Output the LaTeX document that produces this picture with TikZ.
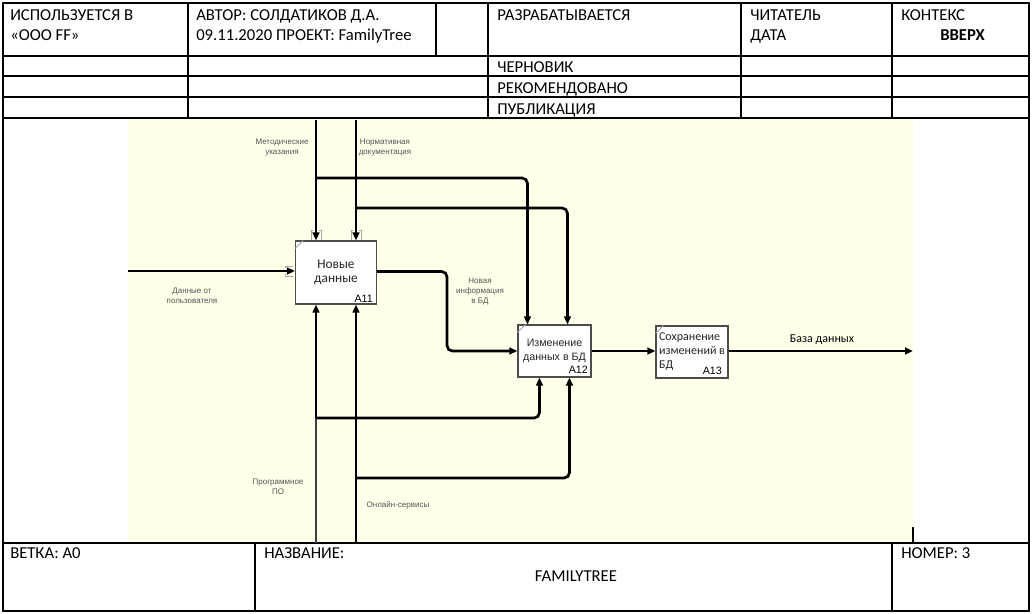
\documentclass[tikz,border=0pt]{standalone}
\usepackage{fontspec}
\setmainfont{Carlito}
\newfontfamily\arialf{Liberation Sans}
\usetikzlibrary{arrows.meta,calc}
\definecolor{bgy}{RGB}{255,255,234}
\definecolor{lbl}{RGB}{85,85,85}
\begin{document}
\begin{tikzpicture}[x=0.75pt,y=-0.75pt,
  hdr/.style={anchor=base west, font=\fontsize{12.5}{14}\selectfont, inner sep=0pt},
  lab/.style={font=\arialf\fontsize{6}{7.5}\selectfont, text=lbl, align=center, inner sep=0pt},
  boxn/.style={draw=gray!60!black, fill=white, line width=0.8pt, inner sep=0pt,
               font=\arialf\fontsize{8}{10.5}\selectfont, text=black!85},
  num/.style={font=\arialf\fontsize{8}{9}\selectfont, anchor=base east, inner sep=0pt},
  arr/.style={line width=2pt, -{Triangle[length=6pt,width=5pt]}, rounded corners=4pt},
  thinln/.style={line width=1pt, draw=black!75},
  frm/.style={line width=1.1pt},
  tun/.style={draw=gray!70, line width=0.6pt}
]
\useasboundingbox (0,0) rectangle (1032,614);
\fill[white] (0,0) rectangle (1032,614);
% diagram background
\fill[bgy] (128,119) rectangle (913,543);

% frame
\draw[frm] (3,3) rectangle (1029,611);
\draw[frm] (3,56) -- (1029,56);
\draw[frm] (3,76) -- (1029,76);
\draw[frm] (3,97) -- (1029,97);
\draw[frm] (3,118) -- (1029,118);
\draw[frm] (188,3) -- (188,118);
\draw[frm] (436,3) -- (436,56);
\draw[frm] (488,3) -- (488,118);
\draw[frm] (741,3) -- (741,118);
\draw[frm] (892,3) -- (892,118);
\draw[frm] (3,543) -- (1029,543);
\draw[frm] (255,543) -- (255,611);
\draw[frm] (892,543) -- (892,611);
\draw[line width=0.8pt] (913,527) -- (913,543);

% header texts
\node[hdr] (h1a) at (10,20) {ИСПОЛЬЗУЕТСЯ В};
\node[hdr] (h1b) at (10,40) {«ООО FF»};
\node[hdr] (h2a) at (196,20) {АВТОР: СОЛДАТИКОВ Д.А.};
\node[hdr] (h2b) at (196,40) {09.11.2020 ПРОЕКТ: FamilyTree};
\node[hdr] (h3) at (497,20) {РАЗРАБАТЫВАЕТСЯ};
\node[hdr] (h4a) at (750,20) {ЧИТАТЕЛЬ};
\node[hdr] (h4b) at (750,40) {ДАТА};
\node[hdr] (h5a) at (901,20) {КОНТЕКС};
\node[hdr, font=\fontsize{12.5}{14}\selectfont\bfseries] (h5b) at (940,40) {ВВЕРХ};
\node[hdr] (r1) at (497,72.5) {ЧЕРНОВИК};
\node[hdr] (r2) at (497,93) {РЕКОМЕНДОВАНО};
\node[hdr] (r3) at (497,114) {ПУБЛИКАЦИЯ};
\node[hdr] (f1) at (10,558) {ВЕТКА: А0};
\node[hdr] (f2) at (264,558) {НАЗВАНИЕ:};
\node[font=\fontsize{12.5}{14}\selectfont, inner sep=0pt] (f3) at (576,576) {FAMILYTREE};
\node[hdr] (f4) at (901,558) {НОМЕР: 3};

% boxes
\node[boxn, minimum width=60.75pt, minimum height=47.25pt, align=center, font=\fontsize{10}{10.5}\selectfont] (a11) at (336,272.5) {Новые\\данные};
\node[boxn, minimum width=54.75pt, minimum height=39pt, align=center] (a12) at (554.5,351) {Изменение\\данных в БД};
\node[boxn, minimum width=54pt, minimum height=39pt, align=left, font=\fontsize{9}{10.5}\selectfont] (a13) at (692,352) {Сохранение\\изменений в\\БД};
\foreach \b in {a11,a12,a13}{
  \draw[gray!70, line width=0.6pt] ($(\b.north west)+(0,8)$) -- ($(\b.north west)+(8,0)$);
}
\node[num] (n11) at (373,302) {A11};
\node[num] (n12) at (588,373) {A12};
\node[num] (n13) at (722,374) {A13};

% coordinates of free ends
\coordinate (in1) at (128,271);
\coordinate (c1) at (316,120);
\coordinate (c2) at (356,120);
\coordinate (m1) at (316,543);
\coordinate (m2) at (356,543);
\coordinate (out) at (913,351);
\coordinate (c1b) at (316,178);
\coordinate (c2b) at (356,208);
\coordinate (m1b) at (316,418);
\coordinate (m2b) at (356,478);

% arrows
\draw[arr] (in1) -- (in1 -| a11.west);
\draw[arr] (c1) -- (c1 |- a11.north);
\draw[arr] (c2) -- (c2 |- a11.north);
\draw[arr] (c1b) -| ($(a12.north west)+(10,0)$);
\draw[arr] (c2b) -| ($(a12.north west)+(50,0)$);
\draw[arr] ($(a11.east)+(0,-1)$) -- ($(a11.east)+(70,-1)$) |- (a12.west);
\draw[arr] (a12.east) -- (a13.west |- a12.east);
\draw[arr] (a13.east |- out) -- (out);
\draw[thinln] (m1) -- (m1b);
\draw[arr] (m1b) -- (m1b |- a11.south);
\draw[arr] (m2) -- (m2 |- a11.south);
\draw[arr] (m1b) -| ($(a12.south west)+(22,0)$);
\draw[arr] (m2b) -| ($(a12.south west)+(52,0)$);

% tunnel brackets
\foreach \xx in {316,356}{
  \draw[tun] (\xx-5,240) -- (\xx-5,230) -- (\xx-3,230);
  \draw[tun] (\xx+5,240) -- (\xx+5,230) -- (\xx+3,230);
}
\draw[tun] (293,266) -- (285,266) -- (285,268);
\draw[tun] (293,276) -- (285,276) -- (285,274);

% labels
\node[lab] (l1) at (282,148) {Методические\\указания};
\node[lab] (l2) at (385,148) {Нормативная\\документация};
\node[lab] (l3) at (192,296) {Данные от\\пользователя};
\node[lab] (l4) at (480,292) {Новая\\информация\\в БД};
\node[lab] (l5) at (278,487) {Программное\\ПО};
\node[lab] (l6) at (398,505) {Онлайн-сервисы};
\node[font=\fontsize{9}{10}\selectfont, inner sep=0pt] (l7) at (822,340) {База данных};
\end{tikzpicture}
\end{document}
